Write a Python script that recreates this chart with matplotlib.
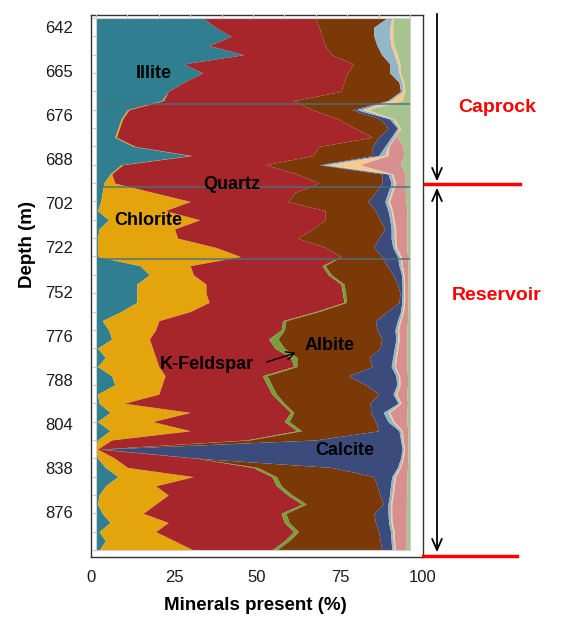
import matplotlib.pyplot as plt
import numpy as np
from matplotlib.lines import Line2D

plt.rcParams['font.family'] = ['Liberation Sans', 'DejaVu Sans']

W, H = 565, 624


def fx(px):
    return px / W


def fy(py):
    return 1 - py / H


# mineral content (%) per sample, shallow -> deep
illite = [34, 38, 43, 36, 47, 28, 34, 28, 23, 21, 10, 8, 7, 6, 12, 30, 8, 4.5, 2.5, 2,
          1.5, 0.5, 4, 1, 0.5, 0.5, 0.5, 14, 17, 13, 13, 13, 8, 2, 4, 5, 0.5, 3, 0.5, 5,
          6, 0.5, 1, 4.5, 0.5, 4.5, 0.5, 0, 0.5, 3, 7, 3, 1, 0.5, 2, 4.5, 1, 3, 1]
chlorite = [0, 0, 0, 0, 0, 0, 0, 0, 0, 0.5, 0.5, 0.5, 0.5, 0.5, 0.5, 0.5, 0.5, 0.5, 3.5, 16,
            28.5, 21.5, 29, 24, 25.5, 37.5, 45.5, 16, 14, 22, 22, 23, 22, 18, 15, 12, 17.5, 16, 19.5, 17,
            15, 19.5, 8, 25.5, 17.5, 25.5, 4.5, 0.5, 5.5, 7, 24, 16, 22, 18.5, 13, 18.5, 18, 22, 30]
quartz = [36, 33, 29, 37, 28, 54, 46, 51, 55, 41.5, 58.5, 68.5, 75, 81.5, 58.5, 38.5, 45.5, 59, 65, 45.5,
          31, 51, 40, 44, 38, 35, 32, 42, 43, 43, 43.5, 43, 40, 39.5, 40, 38, 39, 43, 43, 31,
          33.5, 36, 50, 32, 42, 34, 43, 0.5, 26, 40, 25, 38.5, 38, 46.6, 44, 37, 44, 35, 25]
k_feldspar = [0, 0, 0, 0, 0, 0, 0, 0, 0, 0, 0, 0, 0, 0, 0, 0, 0, 0, 0, 0,
              0, 0, 0, 0, 0, 0, 0, 1, 1, 1, 1, 0.8, 1, 1, 1, 3, 3, 2, 1, 1.5,
              1.5, 1.5, 1, 1, 1.5, 1.5, 1, 0, 0, 1.5, 1.5, 1.5, 1.5, 1.4, 1.5, 1.5, 1.5, 1.5, 1.5]
albite = [22.7, 17.5, 16.5, 16.5, 16, 11.6, 13.6, 17.5, 19, 30, 12.5, 13.5, 10.5, 2, 17, 19, 17, 27, 20, 25.5,
          25.6, 16, 17.4, 23, 26, 15.5, 13, 19.7, 19.6, 17, 17.3, 16.7, 21.7, 28.5, 29.5, 33, 30.5, 23, 24, 26,
          30, 32.5, 27.3, 24.5, 27.5, 24.5, 21, 1, 0.5, 23.5, 31, 30.5, 27.9, 24.5, 28, 27.5, 25.5, 29, 33.5]
calcite = [0, 0, 0, 0, 0, 0, 0, 0, 0, 0, 1.5, 3, 3, 4, 4, 2, 1, 2, 3, 4,
           5.4, 4, 3.2, 2, 4, 6, 5, 3.8, 2.7, 1.5, 0.7, 0.9, 4.3, 7, 5.7, 4.5, 4.5, 7.5, 6, 15,
           9.8, 4.6, 8.9, 4, 4, 6.5, 27, 95.5, 64.5, 21, 5.7, 4.3, 3.1, 1.5, 4.5, 4.2, 3.8, 3.5, 3.2]
minor_blue = [1.5, 5.1, 5.1, 4.5, 4, 2.4, 2.9, 1, 0.8, 1, 2, 1, 0.5, 1, 1, 2, 2, 1, 1, 1,
              1, 1, 0.9, 1, 1, 0.8, 0.8, 0.7, 0.5, 0.5, 0.5, 0.6, 0.6, 0.7, 0.8, 0.7, 0.8, 0.8, 1, 0.8,
              0.7, 0.8, 0.6, 1.5, 1.5, 0.7, 0.5, 0.5, 0.6, 0.6, 0.8, 0.8, 0.8, 0.8, 0.8, 0.8, 0.7, 0.7, 0.7]
minor_orange = [0.5, 0.9, 0.9, 1, 1, 0.8, 0.5, 0.5, 0.6, 3.5, 1.5, 0.5, 0.5, 0.3, 0.3, 1, 10, 0.5, 0.5, 0.5,
                0.5, 0.5, 0.5, 0.5, 0.5, 0.5, 0.4, 0.4, 0.3, 0.3, 0.3, 0.3, 0.4, 0.4, 0.4, 0.4, 0.4, 0.4, 0.4, 0.4,
                0.4, 0.4, 0.4, 0.5, 0.5, 0.4, 0.3, 0.3, 0.3, 0.4, 0.4, 0.4, 0.4, 0.4, 0.4, 0.4, 0.5, 0.4, 0.4]
minor_pink = [0, 0, 0, 0, 0, 0, 0, 0, 0, 0, 0, 0, 0, 0.7, 4.5, 5, 13, 4, 3, 4,
              5.2, 4.5, 4, 3.5, 3.5, 3.2, 2, 1.7, 1.3, 1.1, 1.1, 1.1, 1.3, 2.1, 2.6, 2.4, 2.8, 3.3, 3.6, 2.5,
              2.3, 3.2, 2, 5.5, 4, 1.7, 1.5, 1.1, 1.4, 2.2, 3.6, 4, 4.3, 4.6, 4.6, 4.4, 3.8, 3.7, 3.5]
minor_green = [5.3, 5.5, 5.5, 5, 4, 3.2, 3, 2, 1.6, 2.5, 13.5, 5, 3, 4, 2.2, 2, 3, 1.5, 1.5, 1.5,
               1.3, 1, 1, 1, 1, 1, 0.8, 0.7, 0.6, 0.6, 0.6, 0.6, 0.7, 0.8, 1, 1, 1, 1, 1, 0.8,
               0.8, 1, 0.8, 1, 1, 0.7, 0.7, 0.6, 0.7, 0.8, 1, 1, 1, 1.2, 1.2, 1.2, 1.2, 1.2, 1.2]

depth_labels = ['642', '665', '676', '688', '702', '722', '752', '776', '788', '804', '838', '876']
x_ticks = [0, 25, 50, 75, 100]

layers = [illite, chlorite, quartz, k_feldspar, albite, calcite,
          minor_blue, minor_orange, minor_pink, minor_green]
colors = ['#2f7f91', '#e3a40c', '#a7262b', '#76a03a', '#7b3908', '#3b4c7c',
          '#92b6ca', '#f8c98c', '#d78f90', '#a8c48e']

fig = plt.figure(figsize=(W / 100, H / 100), dpi=100)

# outer frame with the tick labels
outer = fig.add_axes([fx(91), fy(557), fx(423) - fx(91), fy(15) - fy(557)])
outer.set_xlim(0, 100)
outer.set_xticks(x_ticks)
outer.set_ylim(12.02, -0.27)
outer.set_yticks(range(len(depth_labels)))
outer.set_yticklabels(depth_labels)
outer.tick_params(length=0, labelsize=12, colors='#1a1a1a')
outer.tick_params(axis='x', pad=9)
outer.tick_params(axis='y', pad=13)
for s in outer.spines.values():
    s.set_color('#333333')
    s.set_linewidth(1.0)
outer.patch.set_alpha(0)

# stacked mineral profile
inner = fig.add_axes([fx(96), fy(550), fx(410) - fx(96), fy(18) - fy(550)])
n = len(illite)
ys = np.arange(n)
left = np.zeros(n)
for vals, c in zip(layers, colors):
    right = left + np.array(vals)
    inner.fill_betweenx(ys, left, right, color=c, lw=0)
    left = right
inner.set_xlim(0, 100)
inner.set_ylim(n - 1, 0)
inner.set_yticks(np.arange(0, n, 2))
inner.set_xticks(np.arange(0, 101, 10))
inner.tick_params(labelleft=False, labelbottom=False, bottom=False, top=True,
                  length=3, color='#c8c8c8', width=0.8)
for s in inner.spines.values():
    s.set_color('#d0d0d0')
    s.set_linewidth(0.8)

# zone boundaries
for yb in [9.38, 18.43, 26.28]:
    inner.axhline(yb, color='#47707c', lw=1.2, alpha=0.85)

tk = dict(fontsize=13, fontweight='bold', color='black', ha='center', va='center')
inner.text(18.5, 6.0, 'Illite', **tk)
inner.text(43.3, 18.1, 'Quartz', **tk)
inner.text(16.6, 22.1, 'Chlorite', **tk)
inner.text(74.5, 35.7, 'Albite', **tk)
inner.text(35.4, 37.8, 'K-Feldspar', **tk)
inner.text(79.3, 47.1, 'Calcite', **tk)
inner.annotate('', xy=(64.5, 36.4), xytext=(53.5, 37.6),
               arrowprops=dict(arrowstyle='->,head_width=0.3,head_length=0.6',
                               color='black', lw=1.0))

# caprock / reservoir markers
head = 'head_width=0.35,head_length=0.8'
outer.annotate('', xy=(fx(437), fy(184)), xytext=(fx(437), fy(11)),
               xycoords='figure fraction', textcoords='figure fraction',
               arrowprops=dict(arrowstyle='->,' + head, color='black', lw=1.3),
               annotation_clip=False)
outer.annotate('', xy=(fx(437), fy(555)), xytext=(fx(437), fy(185)),
               xycoords='figure fraction', textcoords='figure fraction',
               arrowprops=dict(arrowstyle='<->,' + head, color='black', lw=1.3),
               annotation_clip=False)
fig.add_artist(Line2D([fx(425), fx(520)], [fy(184), fy(184)], color='#ff0000', lw=2.5))
fig.add_artist(Line2D([fx(423), fx(517)], [fy(556), fy(556)], color='#ff0000', lw=2.5))
fig.text(fx(497), fy(108), 'Caprock', color='#ff0000', fontsize=14, fontweight='bold',
         ha='center', va='center')
fig.text(fx(497), fy(295), 'Reservoir', color='#ff0000', fontsize=14, fontweight='bold',
         ha='center', va='center')

fig.text(fx(27), fy(245), 'Depth (m)', rotation=90, fontsize=13.5, fontweight='bold',
         ha='center', va='center')
fig.text(fx(255), fy(605), 'Minerals present (%)', fontsize=13.5, fontweight='bold',
         ha='center', va='center')

fig.savefig('out.png', dpi=100)
